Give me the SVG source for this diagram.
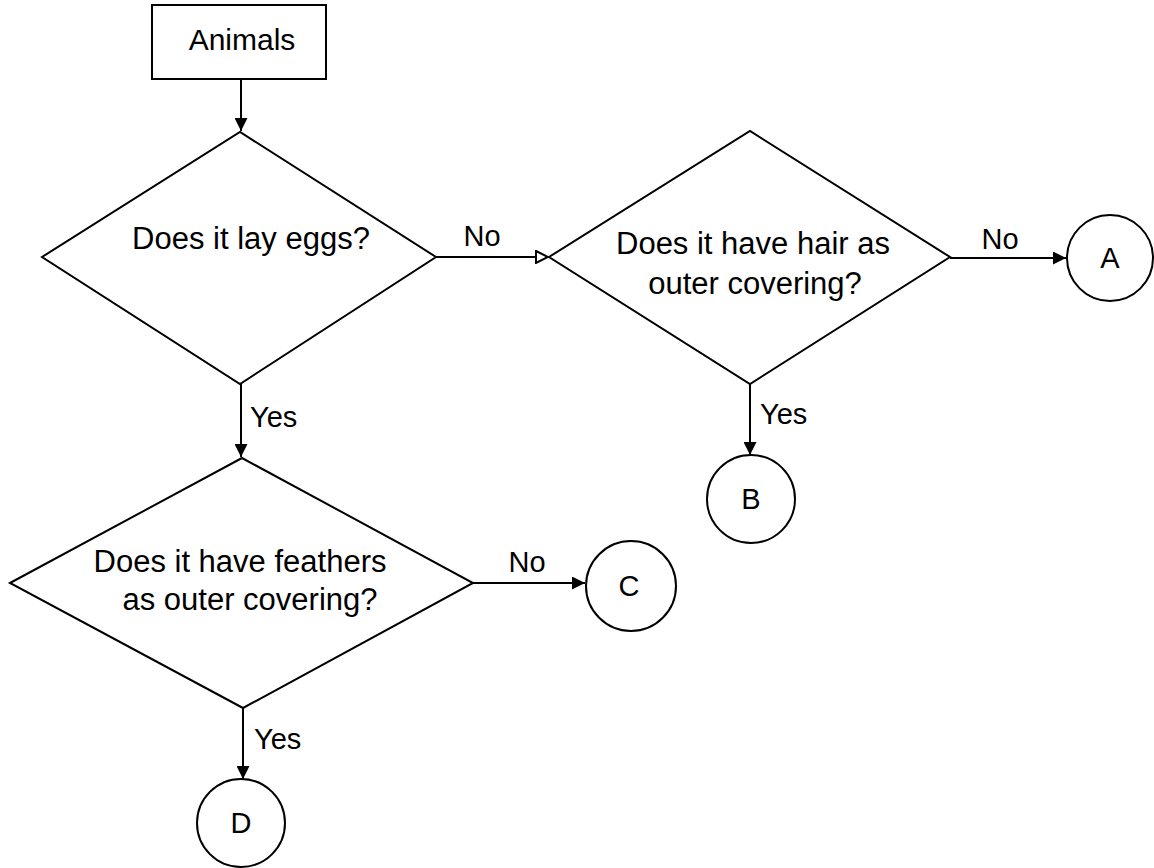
<svg xmlns="http://www.w3.org/2000/svg" width="1154" height="868" viewBox="0 0 1154 868">
<style>
.shape{fill:#fff;stroke:#000;stroke-width:2}
.edge{fill:none;stroke:#000;stroke-width:2}
text{font-family:"Liberation Sans",Arial,sans-serif;font-size:29px;fill:#000}
.q{font-size:31px}
.c{text-anchor:middle}
</style>
<defs>
<marker id="arr" viewBox="0 0 12 12" refX="12" refY="6" markerWidth="13" markerHeight="13" markerUnits="userSpaceOnUse" orient="auto">
<path d="M0,0 L12,6 L0,12 Z" fill="#000"/>
</marker>
<marker id="arrOpen" viewBox="0 0 14 14" refX="13" refY="7" markerWidth="14" markerHeight="14" markerUnits="userSpaceOnUse" orient="auto">
<path d="M1,1 L13,7 L1,13 Z" fill="#fff" stroke="#000" stroke-width="2"/>
</marker>
</defs>
<rect width="1154" height="868" fill="#fff"/>
<g id="connectors">
<line class="edge" x1="241" y1="79" x2="241" y2="131" marker-end="url(#arr)"/>
<line class="edge" x1="436" y1="257" x2="548" y2="257" marker-end="url(#arrOpen)"/>
<line class="edge" x1="950" y1="258" x2="1066" y2="258" marker-end="url(#arr)"/>
<line class="edge" x1="750" y1="384" x2="750" y2="455" marker-end="url(#arr)"/>
<line class="edge" x1="241" y1="384" x2="241" y2="457" marker-end="url(#arr)"/>
<line class="edge" x1="473" y1="583" x2="585" y2="583" marker-end="url(#arr)"/>
<line class="edge" x1="243" y1="708" x2="243" y2="779" marker-end="url(#arr)"/>
<text class="c" x="482" y="246">No</text>
<text class="c" x="1000" y="249">No</text>
<text class="c" x="527" y="572">No</text>
<text x="250" y="427">Yes</text>
<text x="760" y="424">Yes</text>
<text x="254" y="749">Yes</text>
</g>
<g id="animals">
<rect class="shape" x="152" y="5" width="174" height="74"/>
<text class="c" x="242" y="50" style="font-size:30px">Animals</text>
</g>
<g id="q-eggs">
<polygon class="shape" points="42,257 240,132 436,257 240,384"/>
<text class="c q" x="251" y="249">Does it lay eggs?</text>
</g>
<g id="q-hair">
<polygon class="shape" points="549,257 750,131 950,257 750,384"/>
<text class="c q" x="753" y="254">Does it have hair as</text>
<text class="c q" x="755" y="294">outer covering?</text>
</g>
<g id="q-feathers">
<polygon class="shape" points="10,583 242,458 473,583 243,708"/>
<text class="c q" x="240" y="572">Does it have feathers</text>
<text class="c q" x="250" y="610">as outer covering?</text>
</g>
<g id="A">
<circle class="shape" cx="1110" cy="258" r="43"/>
<text class="c" x="1110" y="268">A</text>
</g>
<g id="B">
<circle class="shape" cx="751" cy="499" r="44"/>
<text class="c" x="751" y="509">B</text>
</g>
<g id="C">
<circle class="shape" cx="631" cy="586" r="45"/>
<text class="c" x="629" y="596">C</text>
</g>
<g id="D">
<circle class="shape" cx="241" cy="823" r="44"/>
<text class="c" x="241" y="833">D</text>
</g>
</svg>
